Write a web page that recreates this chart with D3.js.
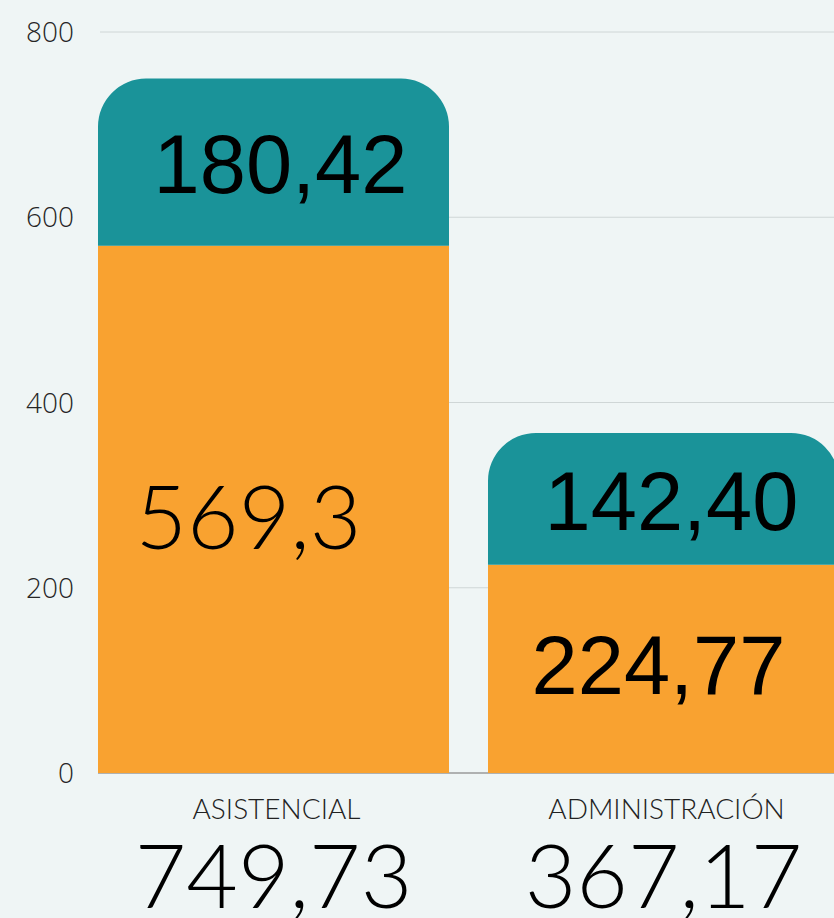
<!DOCTYPE html>
<html>
<head>
<meta charset="utf-8">
<script src="https://cdn.jsdelivr.net/npm/d3@7"></script>
<style>
  html, body { margin: 0; padding: 0; background: #eff5f5; overflow: hidden; }
</style>
</head>
<body>
<div id="chart"></div>
<script>
// data
var categories = ["ASISTENCIAL", "ADMINISTRACIÓN"];
var baseValues = [569.3, 224.77];
var topValues = [180.42, 142.40];
var baseLabels = ["569,3", "224,77"];
var topLabels = ["180,42", "142,40"];
var totalLabels = ["749,73", "367,17"];
var yTicks = [0, 200, 400, 600, 800];

// dimensions
var width = 834, height = 918;
var futura = "Lato, 'Noto Sans', sans-serif";
var arial = "'Liberation Sans', Arial, sans-serif";

var svg = d3.select("#chart")
  .append("svg")
    .attr("width", width)
    .attr("height", height)
    .style("display", "block");

svg.append("rect")
  .attr("width", width)
  .attr("height", height)
  .attr("fill", "#eff5f5");

var x = d3.scaleBand()
  .domain(categories)
  .range([98, 839])
  .paddingInner(0.1)
  .paddingOuter(0);

var y = d3.scaleLinear()
  .domain([0, 800])
  .range([773, 32]);

// gridlines
svg.append("g")
  .selectAll("line")
  .data(yTicks.filter(d => d > 0))
  .enter()
  .append("line")
    .attr("x1", 100)
    .attr("x2", width)
    .attr("y1", d => y(d))
    .attr("y2", d => y(d))
    .attr("stroke", "#cfd6d6")
    .attr("stroke-width", 1);

// baseline
svg.append("line")
  .attr("x1", 98)
  .attr("x2", width)
  .attr("y1", y(0))
  .attr("y2", y(0))
  .attr("stroke", "#9a9a9a")
  .attr("stroke-width", 1.5);

// y tick labels
svg.append("g")
  .selectAll("text")
  .data(yTicks)
  .enter()
  .append("text")
    .attr("x", 74)
    .attr("y", d => y(d))
    .attr("dy", "0.36em")
    .attr("text-anchor", "end")
    .style("font-family", "'Open Sans', 'Noto Sans', sans-serif")
    .style("font-weight", 300)
    .style("font-size", "28px")
    .attr("fill", "#262626")
    .text(d => d);

var r = 48;

// rounded-top rect path
function topRounded(x0, y0, w, h, rad) {
  return "M" + x0 + "," + (y0 + h) +
    "V" + (y0 + rad) +
    "A" + rad + "," + rad + " 0 0 1 " + (x0 + rad) + "," + y0 +
    "H" + (x0 + w - rad) +
    "A" + rad + "," + rad + " 0 0 1 " + (x0 + w) + "," + (y0 + rad) +
    "V" + (y0 + h) + "Z";
}

// bottom (orange) segments
svg.append("g")
  .selectAll("rect")
  .data(categories)
  .enter()
  .append("rect")
    .attr("x", d => x(d))
    .attr("y", (d, i) => y(baseValues[i]))
    .attr("width", x.bandwidth())
    .attr("height", (d, i) => y(0) - y(baseValues[i]))
    .attr("fill", "#f9a230");

// top (teal) segments
svg.append("g")
  .selectAll("path")
  .data(categories)
  .enter()
  .append("path")
    .attr("d", (d, i) => {
      var yTop = y(baseValues[i] + topValues[i]);
      var yBot = y(baseValues[i]);
      return topRounded(x(d), yTop, x.bandwidth(), yBot - yTop, r);
    })
    .attr("fill", "#1a9399");

// labels inside orange
var baseDx = [-25, -5];
var baseFont = [futura, arial];
var baseDy = [40, 25];
svg.append("g")
  .selectAll("text")
  .data(categories)
  .enter()
  .append("text")
    .attr("x", (d, i) => x(d) + x.bandwidth() / 2 + baseDx[i])
    .attr("y", (d, i) => (y(0) + y(baseValues[i])) / 2 + baseDy[i])
    .attr("text-anchor", "middle")
    .style("font-family", (d, i) => baseFont[i])
    .style("font-weight", (d, i) => i === 0 ? 300 : 400)
    .style("font-size", (d, i) => i === 0 ? "89px" : "83px")
    .attr("fill", "#000")
    .text((d, i) => baseLabels[i]);

// labels inside teal
var topDx = [7, 8];
svg.append("g")
  .selectAll("text")
  .data(categories)
  .enter()
  .append("text")
    .attr("x", (d, i) => x(d) + x.bandwidth() / 2 + topDx[i])
    .attr("y", (d, i) => (y(baseValues[i]) + y(baseValues[i] + topValues[i])) / 2 + 31)
    .attr("text-anchor", "middle")
    .style("font-family", arial)
    .style("font-size", "83px")
    .attr("fill", "#000")
    .text((d, i) => topLabels[i]);

// category labels
svg.append("g")
  .selectAll("text")
  .data(categories)
  .enter()
  .append("text")
    .attr("x", d => x(d) + x.bandwidth() / 2 + 3)
    .attr("y", 819)
    .attr("text-anchor", "middle")
    .style("font-family", futura)
    .style("font-weight", 300)
    .style("font-size", "28px")
    .attr("fill", "#222")
    .text(d => d);

// totals
svg.append("g")
  .selectAll("text")
  .data(categories)
  .enter()
  .append("text")
    .attr("x", d => x(d) + x.bandwidth() / 2)
    .attr("y", 908)
    .attr("text-anchor", "middle")
    .style("font-family", futura)
    .style("font-weight", 300)
    .style("font-size", "89px")
    .attr("fill", "#000")
    .text((d, i) => totalLabels[i]);
</script>
</body>
</html>
